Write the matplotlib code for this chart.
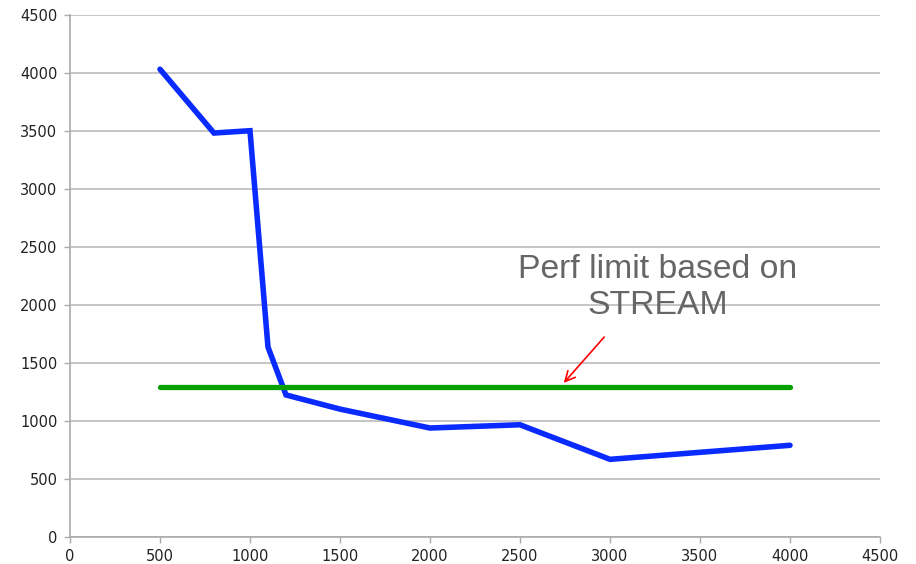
import matplotlib.pyplot as plt

# measured performance vs size
sizes = [500, 800, 1000, 1100, 1200, 1500, 2000, 2500, 3000, 4000]
perf = [4030, 3480, 3500, 1635, 1222, 1100, 937, 965, 667, 788]

# STREAM limit
limit_x = [500, 4000]
limit_y = [1290, 1290]

xticks = [0, 500, 1000, 1500, 2000, 2500, 3000, 3500, 4000, 4500]
yticks = [0, 500, 1000, 1500, 2000, 2500, 3000, 3500, 4000, 4500]

fig = plt.figure(figsize=(9.16, 5.64), dpi=100)
ax = fig.add_axes([0.0764, 0.0484, 0.8843, 0.9255])

ax.plot(sizes, perf, color='#0a2bff', lw=4, solid_capstyle='round',
        solid_joinstyle='miter', zorder=3)
ax.plot(limit_x, limit_y, color='#06a000', lw=3.8, solid_capstyle='round', zorder=3)

ax.set_xlim(0, 4500)
ax.set_ylim(0, 4500)
ax.set_xticks(xticks)
ax.set_yticks(yticks)
ax.tick_params(colors='#aaaaaa', labelcolor='#222222', labelsize=10.5, length=4, width=1)
ax.tick_params(axis='x', pad=5)
ax.tick_params(axis='y', pad=5)
ax.grid(axis='y', color='#bbbbbb', lw=1.2)
ax.set_axisbelow(True)
for s in ['top', 'right']:
    ax.spines[s].set_visible(False)
for s in ['left', 'bottom']:
    ax.spines[s].set_color('#aaaaaa')
    ax.spines[s].set_linewidth(1.2)

ax.text(3267, 2150, 'Perf limit based on\nSTREAM', ha='center', va='center',
        fontsize=24.3, color='#666666', family='Liberation Sans', linespacing=1.2)
ax.annotate('', xy=(2733, 1308), xytext=(2978, 1739),
            arrowprops=dict(arrowstyle='->', color='red', lw=1.2, mutation_scale=18))

fig.savefig('out.png', dpi=100)
